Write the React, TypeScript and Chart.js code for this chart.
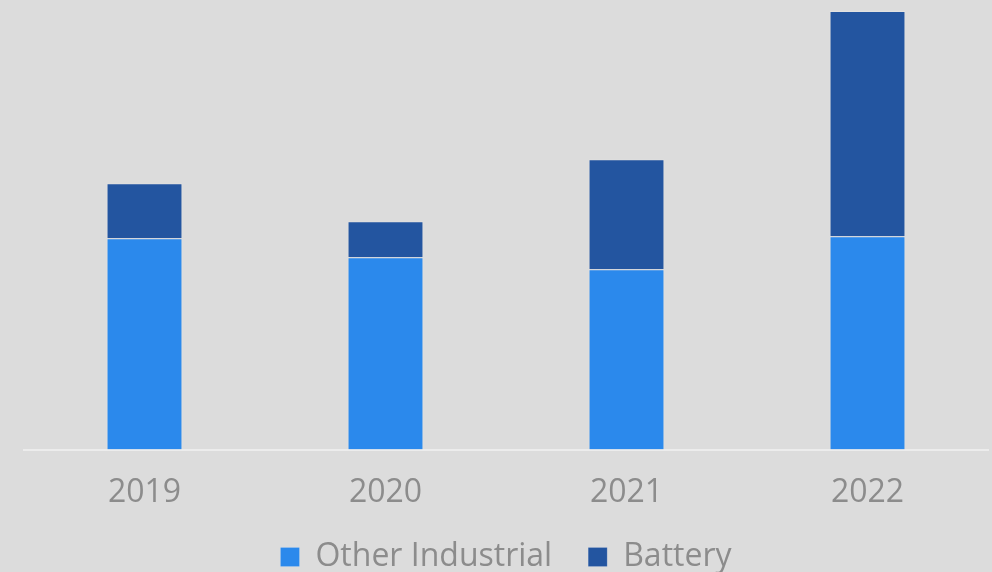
import React, { useEffect, useRef } from "react";
import { Chart, registerables } from "chart.js";

Chart.register(...registerables);

const categories = ["2019", "2020", "2021", "2022"];
const otherIndustrial = [21.1, 19.2, 18.0, 21.3];
const battery = [5.5, 3.6, 11.0, 22.5];

export default function App() {
  const ref = useRef<HTMLCanvasElement | null>(null);
  useEffect(() => {
    if (!ref.current) return;
    const chart = new Chart(ref.current, {
      type: "bar",
      data: {
        labels: categories,
        datasets: [
          {
            label: "Other Industrial",
            data: otherIndustrial,
            backgroundColor: "#2b89ec",
            borderColor: "rgba(255,255,255,0.15)",
            borderWidth: 1,
            barPercentage: 0.63,
            categoryPercentage: 0.5,
          },
          {
            label: "Battery",
            data: battery,
            backgroundColor: "#2355a0",
            borderColor: "rgba(255,255,255,0.15)",
            borderWidth: 1,
            barPercentage: 0.63,
            categoryPercentage: 0.5,
          },
        ],
      },
      options: {
        animation: false,
        responsive: false,
        maintainAspectRatio: false,
        layout: { padding: { left: 24, right: 4, top: 11, bottom: -11 } },
        plugins: {
          tooltip: { enabled: false },
          legend: {
            position: "bottom",
            labels: {
              color: "#8c8c8c",
              font: { family: "Open Sans", size: 32, lineHeight: 1 },
              boxWidth: 19,
              boxHeight: 19,
              padding: 36,
            },
          },
        },
        scales: {
          x: {
            stacked: true,
            grid: { display: false, drawTicks: false },
            border: { display: true, color: "#ececec", width: 2 },
            ticks: {
              color: "#8c8c8c",
              font: { family: "Open Sans", size: 32 },
              padding: 24,
            },
            afterFit: (scale: any) => {
              scale.height -= 31;
            },
          },
          y: {
            stacked: true,
            display: false,
            min: 0,
            max: 43.8,
          },
        },
      },
    });
    return () => chart.destroy();
  }, []);
  return (
    <div style={{ position: "fixed", left: 0, top: 0, width: 992, height: 572, background: "#dcdcdc" }}>
      <canvas ref={ref} width={992} height={572} style={{ display: "block" }} />
    </div>
  );
}
